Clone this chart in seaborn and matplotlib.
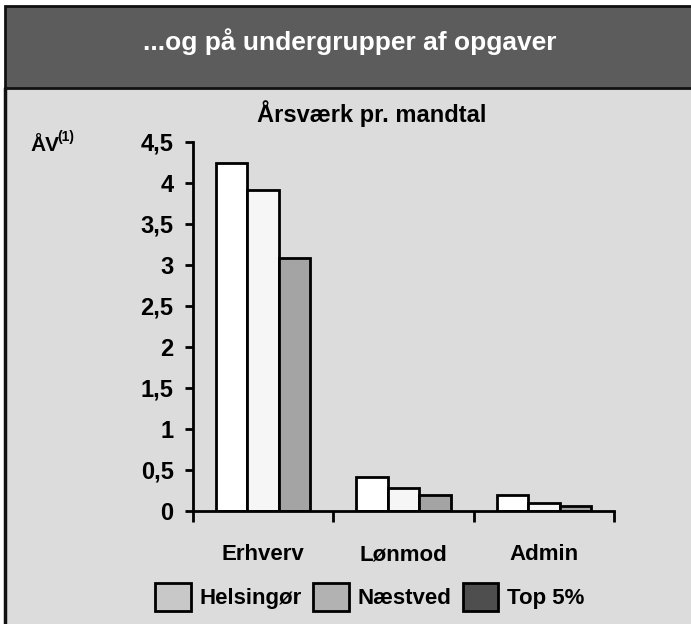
import matplotlib
matplotlib.use("Agg")
import matplotlib.pyplot as plt
import seaborn as sns
import pandas as pd
from matplotlib.patches import Rectangle, Patch
from matplotlib.lines import Line2D

categories = ["Erhverv", "Lønmod", "Admin"]
series = ["Helsingør", "Næstved", "Top 5%"]
helsingor = [4.25, 0.42, 0.20]
naestved = [3.92, 0.28, 0.10]
top5 = [3.08, 0.20, 0.06]
yticks = [0, 0.5, 1, 1.5, 2, 2.5, 3, 3.5, 4, 4.5]
ytick_labels = ["0", "0,5", "1", "1,5", "2", "2,5", "3", "3,5", "4", "4,5"]

rows = []
for s, vals in zip(series, [helsingor, naestved, top5]):
    for c, v in zip(categories, vals):
        rows.append({"cat": c, "series": s, "val": v})
df = pd.DataFrame(rows)

sns.set_theme(style="white")
plt.rcParams["font.family"] = ["Liberation Sans", "DejaVu Sans"]
plt.rcParams["text.color"] = "black"
plt.rcParams["xtick.color"] = "black"
plt.rcParams["ytick.color"] = "black"

W, H = 691, 624
fig = plt.figure(figsize=(W / 100, H / 100), dpi=100)
fig.patch.set_facecolor("white")

def fx(x):
    return x / W

def fy(y):
    return 1 - y / H

# panel background
fig.patches.append(Rectangle((fx(5), 0), fx(686), fy(88), transform=fig.transFigure,
                             facecolor="#dcdcdc", edgecolor="none", zorder=-10))
# title bar
fig.patches.append(Rectangle((fx(5), fy(88)), fx(690), (88 - 6) / H, transform=fig.transFigure,
                             facecolor="#5c5c5c", edgecolor="#111111", linewidth=2, zorder=-9))
fig.lines.append(Line2D([fx(5), fx(5)], [0, fy(88)], transform=fig.transFigure,
                        color="#111111", linewidth=2.5, zorder=-8))
fig.text(fx(350), fy(42), "...og på undergrupper af opgaver", color="white",
         fontsize=19, fontweight="bold", ha="center", va="center")

ax = fig.add_axes([fx(193), fy(511), fx(614 - 193), (511 - 142) / H])
ax.set_facecolor("none")

bar_colors = ["#ffffff", "#f6f6f6", "#a4a4a4"]
sns.barplot(data=df, x="cat", y="val", hue="series", order=categories, hue_order=series,
            palette=bar_colors, width=0.67, edgecolor="black", linewidth=2,
            ax=ax, legend=False)

ax.set_xlim(-0.5, 2.5)
ax.set_ylim(0, 4.5)
ax.set_yticks(yticks)
ax.set_yticklabels(ytick_labels, fontsize=17, fontweight="bold")
ax.set_xticks(range(len(categories)))
ax.set_xticklabels(categories, fontsize=16, fontweight="bold")
ax.set_xticks([-0.5, 0.5, 1.5, 2.5], minor=True)
ax.tick_params(axis="x", which="major", length=0, pad=24)
ax.tick_params(axis="x", which="minor", length=8, width=2, color="black", bottom=True)
ax.tick_params(axis="y", length=6, width=2, color="black", pad=8, left=True)
ax.set_xlabel("")
ax.set_ylabel("")
for side in ["top", "right"]:
    ax.spines[side].set_visible(False)
for side in ["left", "bottom"]:
    ax.spines[side].set_color("black")
    ax.spines[side].set_linewidth(2)

fig.text(fx(372), fy(114), "Årsværk pr. mandtal", fontsize=17, fontweight="bold",
         ha="center", va="center", color="black")
fig.text(fx(30), fy(151), "ÅV", fontsize=15, fontweight="bold", ha="left", va="baseline")
fig.text(fx(57), fy(141), "(1)", fontsize=10, fontweight="bold", ha="left", va="baseline")

legend_colors = ["#c8c8c8", "#b2b2b2", "#4e4e4e"]
handles = [Patch(facecolor=c, edgecolor="black", linewidth=2, label=s)
           for c, s in zip(legend_colors, series)]
fig.legend(handles=handles, loc="center", bbox_to_anchor=(fx(370), fy(597)), ncol=3,
           frameon=False, prop={"size": 16, "weight": "bold"}, handlelength=1.6,
           handleheight=1.6, handletextpad=0.4, columnspacing=0.5)

fig.savefig("out.png", dpi=100)
